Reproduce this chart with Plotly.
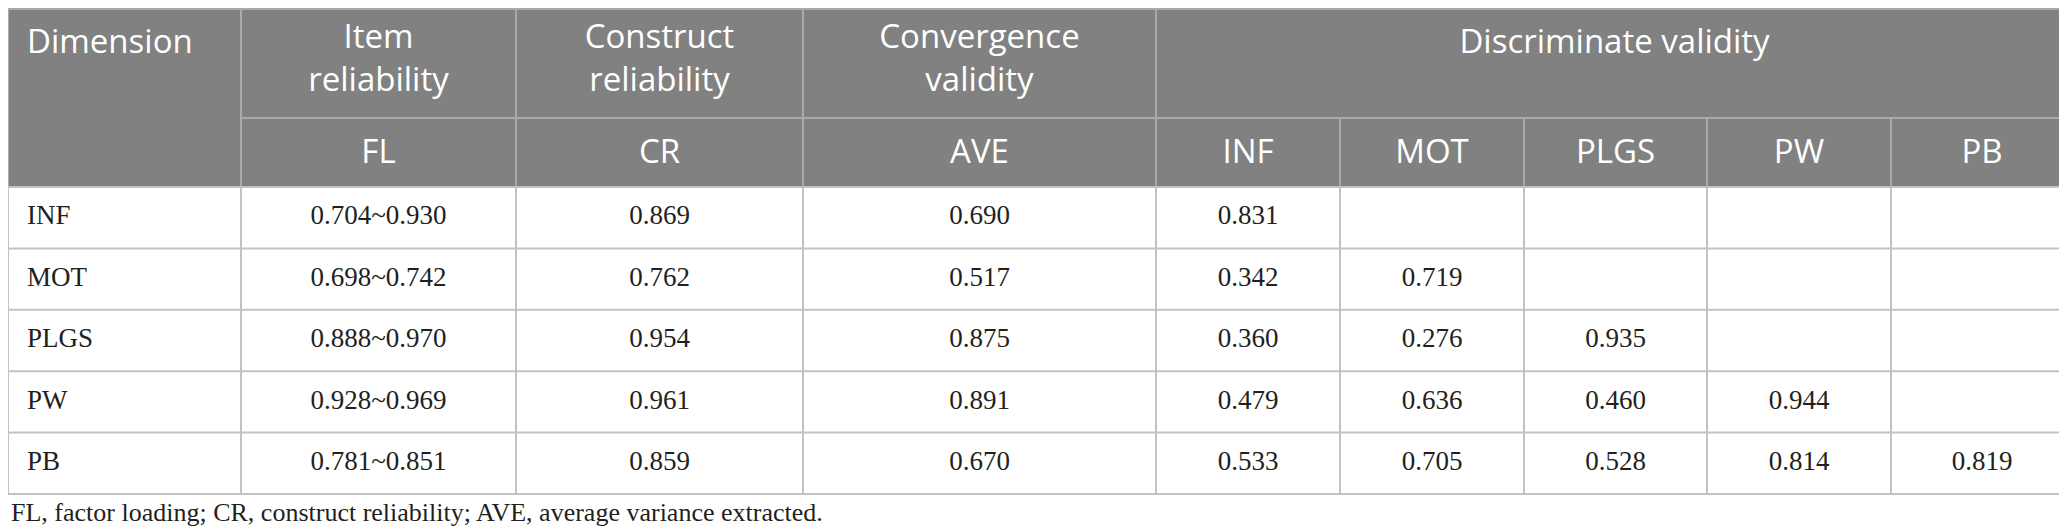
import plotly.graph_objects as go

W, H = 2067, 528

# table content
dimensions = ["INF", "MOT", "PLGS", "PW", "PB"]
item_fl = ["0.704~0.930", "0.698~0.742", "0.888~0.970", "0.928~0.969", "0.781~0.851"]
construct_cr = ["0.869", "0.762", "0.954", "0.961", "0.859"]
convergence_ave = ["0.690", "0.517", "0.875", "0.891", "0.670"]
discriminant = [
    ["0.831"],
    ["0.342", "0.719"],
    ["0.360", "0.276", "0.935"],
    ["0.479", "0.636", "0.460", "0.944"],
    ["0.533", "0.705", "0.528", "0.814", "0.819"],
]
top_headers = ["Dimension", "Item<br>reliability", "Construct<br>reliability",
               "Convergence<br>validity", "Discriminate validity"]
sub_headers = ["FL", "CR", "AVE"] + dimensions
footnote = "FL, factor loading; CR, construct reliability; AVE, average variance extracted."

# geometry (pixels)
col_edges = [0, 233, 508, 795, 1148, 1332, 1516, 1699, 1883, 2065]
head1_bottom = 110
head2_bottom = 179
row_h = 61.4

header_fill = "#808180"
header_line = "#a9aaa9"
body_line = "#c2c2c2"
sans = "'Open Sans', 'Noto Sans', sans-serif"
serif = "'Liberation Serif', 'DejaVu Serif', serif"
ink = "#231f20"

def mid(a, b):
    return (a + b) / 2

fig = go.Figure()
shapes = []

# header background
shapes.append(dict(type="rect", x0=0, x1=col_edges[-1], y0=0, y1=head2_bottom,
                   fillcolor=header_fill, line=dict(width=0), layer="below"))
# header lines
shapes.append(dict(type="line", x0=0, x1=col_edges[-1], y0=1, y1=1,
                   line=dict(color=header_line, width=2)))
shapes.append(dict(type="line", x0=col_edges[1], x1=col_edges[-1], y0=head1_bottom, y1=head1_bottom,
                   line=dict(color=header_line, width=2)))
for i, x in enumerate(col_edges):
    y0 = 0 if (i <= 4 or i == len(col_edges) - 1) else head1_bottom
    shapes.append(dict(type="line", x0=x, x1=x, y0=y0, y1=head2_bottom,
                       line=dict(color=header_line, width=2)))

# body lines
body_bottom = head2_bottom + row_h * len(dimensions)
for r in range(len(dimensions) + 1):
    y = head2_bottom + r * row_h
    shapes.append(dict(type="line", x0=0, x1=col_edges[-1], y0=y, y1=y,
                       line=dict(color=body_line, width=2)))
for x in col_edges:
    shapes.append(dict(type="line", x0=x, x1=x, y0=head2_bottom, y1=body_bottom,
                       line=dict(color=body_line, width=2)))

# header text
hx, hy, ht = [], [], []
for i, label in enumerate(top_headers[1:4]):
    hx.append(mid(col_edges[i + 1], col_edges[i + 2]))
    hy.append(53)
    ht.append(label)
hx.append(mid(col_edges[4], col_edges[-1]))
hy.append(37)
ht.append(top_headers[4])
for i, label in enumerate(sub_headers):
    hx.append(mid(col_edges[i + 1], col_edges[i + 2]))
    hy.append(147)
    ht.append(label)
fig.add_trace(go.Scatter(x=hx, y=hy, text=ht, mode="text", textposition="middle center",
                         textfont=dict(family=sans, size=33, color="white"),
                         hoverinfo="skip", showlegend=False))
fig.add_trace(go.Scatter(x=[19], y=[37], text=[top_headers[0]], mode="text",
                         textposition="middle right",
                         textfont=dict(family=sans, size=33, color="white"),
                         hoverinfo="skip", showlegend=False))

# body text
bx, by, bt = [], [], []
for r in range(len(dimensions)):
    yc = head2_bottom + (r + 0.5) * row_h
    row_vals = [item_fl[r], construct_cr[r], convergence_ave[r]] + discriminant[r]
    for c, v in enumerate(row_vals):
        bx.append(mid(col_edges[c + 1], col_edges[c + 2]))
        by.append(yc)
        bt.append(v)
fig.add_trace(go.Scatter(x=bx, y=by, text=bt, mode="text", textposition="middle center",
                         textfont=dict(family=serif, size=27, color=ink),
                         hoverinfo="skip", showlegend=False))
fig.add_trace(go.Scatter(x=[19] * len(dimensions),
                         y=[head2_bottom + (r + 0.5) * row_h for r in range(len(dimensions))],
                         text=dimensions, mode="text", textposition="middle right",
                         textfont=dict(family=serif, size=27, color=ink),
                         hoverinfo="skip", showlegend=False))
fig.add_trace(go.Scatter(x=[3], y=[506], text=[footnote], mode="text",
                         textposition="middle right",
                         textfont=dict(family=serif, size=26, color=ink),
                         hoverinfo="skip", showlegend=False))

fig.update_layout(
    width=W, height=H,
    margin=dict(l=0, r=0, t=0, b=0),
    paper_bgcolor="white", plot_bgcolor="white",
    shapes=shapes,
    xaxis=dict(range=[0, W], visible=False, fixedrange=True),
    yaxis=dict(range=[H, 0], visible=False, fixedrange=True),
)

fig.write_html("out.html")
